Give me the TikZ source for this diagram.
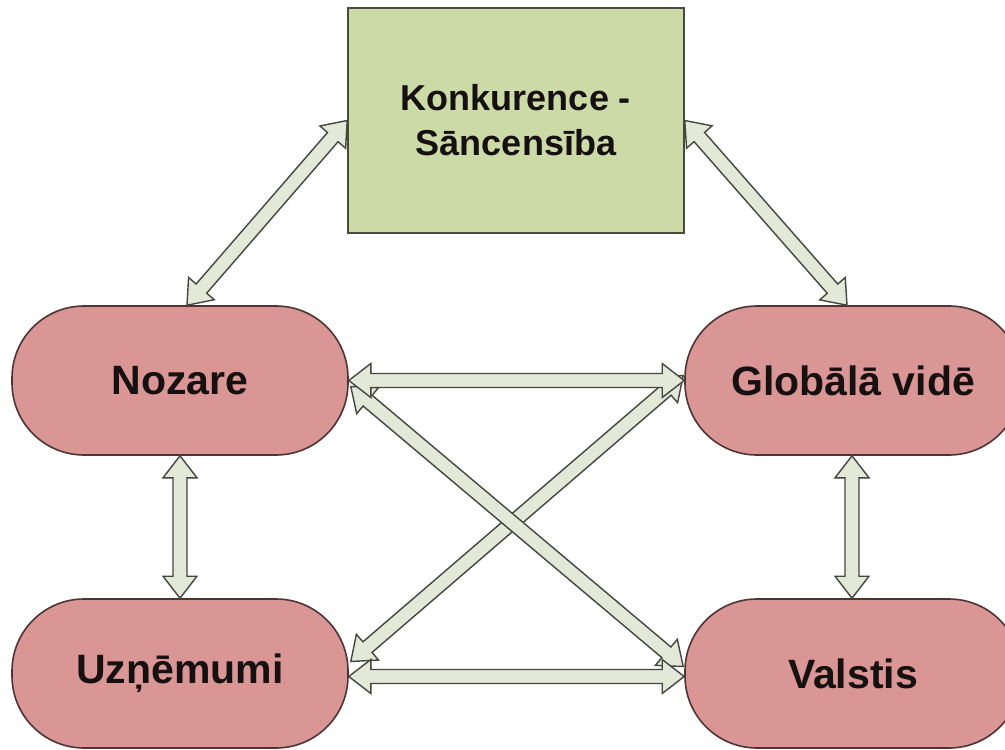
\documentclass[tikz,border=0pt]{standalone}
\usepackage{fontspec}
\setmainfont{Liberation Sans}
\usetikzlibrary{calc}

\definecolor{boxgreen}{HTML}{CCDAA8}
\definecolor{boxedge}{HTML}{4A4A42}
\definecolor{pillred}{HTML}{D99694}
\definecolor{pilledge}{HTML}{4D3535}
\definecolor{arrowfill}{HTML}{E4E8D8}
\definecolor{arrowedge}{HTML}{45463E}
\definecolor{inktext}{HTML}{161010}

% geometry of the two-headed block arrows
\def\headlen{22pt}
\def\headhalf{17pt}
\def\shafthalf{7pt}

% block arrow with a head at each end, from tip #1 to tip #2
\newcommand\twowayarrow[2]{%
  \coordinate (ta) at (#1);
  \coordinate (tb) at (#2);
  \coordinate (ha) at ($(ta)!\headlen!(tb)$);
  \coordinate (hb) at ($(tb)!\headlen!(ta)$);
  \draw[linkarrow] (ta)
    -- ($(ha)!\headhalf!90:(tb)$) -- ($(ha)!\shafthalf!90:(tb)$)
    -- ($(hb)!\shafthalf!-90:(ta)$) -- ($(hb)!\headhalf!-90:(ta)$)
    -- (tb)
    -- ($(hb)!\headhalf!90:(ta)$) -- ($(hb)!\shafthalf!90:(ta)$)
    -- ($(ha)!\shafthalf!-90:(tb)$) -- ($(ha)!\headhalf!-90:(tb)$)
    -- cycle;%
}

\tikzset{
  pill/.style={draw=pilledge, line width=1.6pt, fill=pillred,
    rounded corners=72pt, minimum width=336pt, minimum height=149pt,
    inner sep=0pt, text=inktext, font=\bfseries\fontsize{41}{49}\selectfont},
  topic/.style={draw=boxedge, line width=1.6pt, fill=boxgreen,
    minimum width=336pt, minimum height=225pt, inner sep=0pt,
    align=center, text=inktext, font=\bfseries\fontsize{36}{45}\selectfont},
  linkarrow/.style={draw=arrowedge, fill=arrowfill, line width=1.4pt,
    line join=miter},
}

\begin{document}
\begin{tikzpicture}[x=1pt, y=-1pt]
  \clip (0,0) rectangle (1005,750);
  \fill[white] (0,0) rectangle (1005,750);

  % central theme and the four levels
  \node[topic] (konk) at (516,120.5) {Konkurence -\\Sāncensība};
  \node[pill] (noz)  at (180,380.5) {Nozare};
  \node[pill] (glob) at (853,380.5) {Globālā vidē};
  \node[pill] (uz)   at (180,673.5) {Uzņēmumi};
  \node[pill] (val)  at (853,673.5) {Valstis};

  % links to the central theme
  \twowayarrow{konk.west}{$(noz.north)+(7,0)$}
  \twowayarrow{konk.east}{$(glob.north)+(-6,0)$}

  % vertical links
  \twowayarrow{noz.south}{uz.north}
  \twowayarrow{$(glob.south)+(-1,0)$}{$(val.north)+(-1,0)$}

  % crossing diagonals
  \twowayarrow{$(uz.east)+(2,-12)$}{$(glob.west)+(-1,-5)$}
  \twowayarrow{$(noz.east)+(2,6)$}{$(val.west)+(-1,-7)$}

  % horizontal links
  \twowayarrow{noz.east}{glob.west}
  \twowayarrow{$(uz.east)+(0,3)$}{$(val.west)+(0,3)$}
\end{tikzpicture}
\end{document}
